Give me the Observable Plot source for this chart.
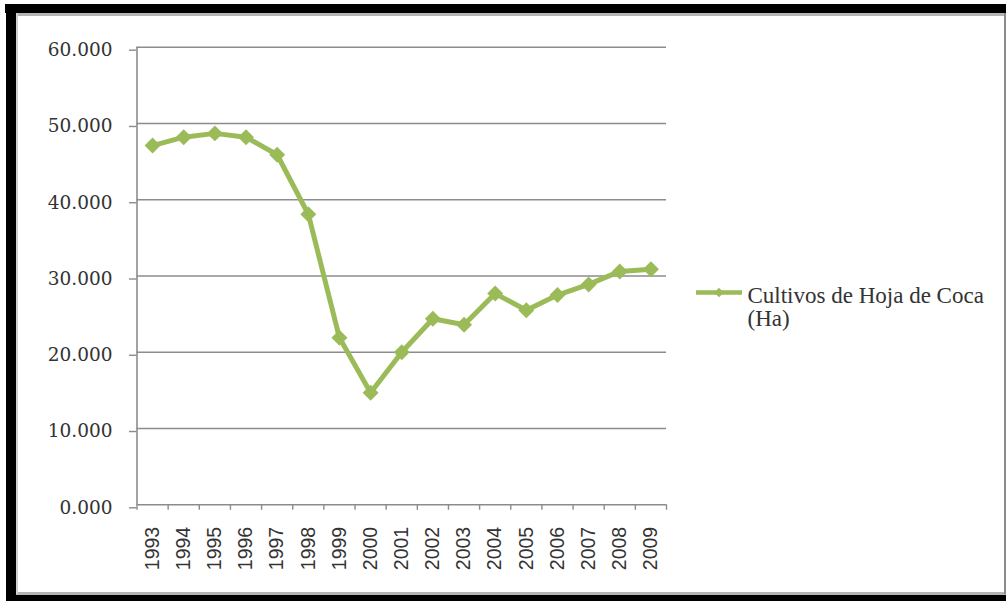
<!DOCTYPE html>
<html>
<head>
<meta charset="utf-8">
<script src="https://cdn.jsdelivr.net/npm/d3@7"></script>
<script src="https://cdn.jsdelivr.net/npm/@observablehq/plot@0.6"></script>
<style>
  html, body { margin: 0; padding: 0; background: #fff; }
  #page { position: relative; width: 1006px; height: 601px; overflow: hidden; background: #fff; }
  .blk { position: absolute; background: #000; }
  .gry { position: absolute; background: #b4b4b4; }
  #chart { position: absolute; left: 0; top: 0; }
  #legend { position: absolute; left: 694px; top: 283.5px; font-family: "Liberation Serif", serif; font-size: 23px; line-height: 23px; color: #333; }
  #legend svg { position: absolute; left: 0; top: 0; overflow: visible; }
  #legend .txt { position: absolute; left: 53.5px; top: 0; white-space: nowrap; }
</style>
</head>
<body>
<div id="page">
  <div id="chart"></div>
  <div id="legend"></div>
  <div class="blk" style="left:5px;top:4px;width:1001px;height:9px"></div>
  <div class="blk" style="left:6px;top:4px;width:9.5px;height:597px"></div>
  <div class="blk" style="left:6px;top:594.7px;width:1000px;height:6.3px"></div>
  <div class="gry" style="left:15.5px;top:13px;width:990.5px;height:3px"></div>
  <div class="gry" style="left:15.5px;top:592px;width:990.5px;height:2.7px"></div>
  <div class="gry" style="left:15.5px;top:13px;width:2px;height:581px;background:#d0d0d0"></div>
  <div class="gry" style="left:1004.3px;top:13px;width:1.7px;height:581px;background:#8a8a8a"></div>
</div>
<script>
// ---- data ----
const years = [1993, 1994, 1995, 1996, 1997, 1998, 1999, 2000, 2001, 2002, 2003, 2004, 2005, 2006, 2007, 2008, 2009];
const hectares = [47100, 48200, 48700, 48200, 45900, 38100, 21900, 14700, 20000, 24400, 23600, 27700, 25500, 27500, 28900, 30600, 30900];
const yTicks = [0, 10000, 20000, 30000, 40000, 50000, 60000];
const yTickLabels = ["0.000", "10.000", "20.000", "30.000", "40.000", "50.000", "60.000"];
const seriesName = "Cultivos de Hoja de Coca (Ha)";
const legendLines = ["Cultivos de Hoja de Coca", "(Ha)"];

const green = "#9BBB59";
const data = years.map((year, i) => ({year, value: hectares[i]}));
// category boundaries (Excel-style ticks between categories)
const boundaries = years.map(y => y - 0.5).concat([years[years.length - 1] + 0.5]);
const labelOf = new Map(yTicks.map((t, i) => [t, yTickLabels[i]]));

const chart = Plot.plot({
  width: 1006,
  height: 601,
  marginLeft: 136.5,
  marginRight: 340,
  marginTop: 46.7,
  marginBottom: 96.7,
  style: {background: "transparent", overflow: "visible"},
  x: {domain: [boundaries[0], boundaries[boundaries.length - 1]]},
  y: {domain: [0, 60000]},
  marks: [
    Plot.ruleY(yTicks, {stroke: "#8c8c8c", strokeWidth: 1.4}),
    Plot.axisY(yTicks, {
      tickSize: 7.5, tickPadding: 17, stroke: "#8c8c8c", strokeWidth: 1.4,
      fill: "#333", fontFamily: "DejaVu Serif", fontSize: 18.5, dy: 3,
      tickFormat: d => labelOf.get(d), label: null
    }),
    Plot.ruleX([boundaries[0]], {stroke: "#8c8c8c", strokeWidth: 1.6}),
    Plot.axisX(boundaries, {
      tickSize: 5.5, stroke: "#8c8c8c", strokeWidth: 1.4,
      tickFormat: () => "", label: null
    }),
    Plot.axisX(years, {
      tickSize: 0, tickPadding: 22, tickRotate: -90,
      fill: "#333", fontFamily: "Liberation Sans", fontSize: 19.5,
      tickFormat: d => String(d), label: null
    }),
    Plot.line(data, {x: "year", y: "value", stroke: green, strokeWidth: 5, strokeLinejoin: "round"}),
    Plot.dot(data, {x: "year", y: "value", symbol: "diamond2", r: 7.2, fill: green, stroke: "none", title: d => `${seriesName}: ${d.year}`})
  ]
});
document.getElementById("chart").appendChild(chart);

// legend
const legend = document.getElementById("legend");
const ns = "http://www.w3.org/2000/svg";
const svg = document.createElementNS(ns, "svg");
svg.setAttribute("width", "50");
svg.setAttribute("height", "20");
const ln = document.createElementNS(ns, "line");
ln.setAttribute("x1", "2"); ln.setAttribute("x2", "48");
ln.setAttribute("y1", "8.5"); ln.setAttribute("y2", "8.5");
ln.setAttribute("stroke", green); ln.setAttribute("stroke-width", "4.5");
svg.appendChild(ln);
const dm = document.createElementNS(ns, "path");
dm.setAttribute("d", d3.symbol(d3.symbolDiamond2, 60)());
dm.setAttribute("transform", "translate(25,8.5)");
dm.setAttribute("fill", green);
svg.appendChild(dm);
legend.appendChild(svg);
const txt = document.createElement("div");
txt.className = "txt";
txt.innerHTML = legendLines.join("<br>");
legend.appendChild(txt);
</script>
</body>
</html>
